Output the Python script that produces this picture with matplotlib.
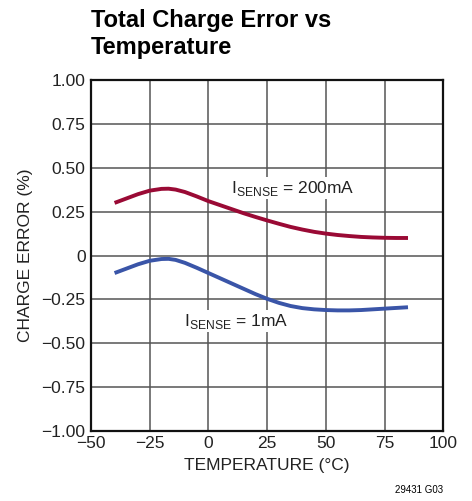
import matplotlib
matplotlib.use("Agg")
import matplotlib.pyplot as plt

# values
temps = [-40, -35, -30, -25, -20, -17, -14, -10, -5, 0, 5, 10, 15, 20, 25, 30,
         35, 40, 45, 50, 55, 60, 65, 70, 75, 80, 85]
err_200ma = [0.30, 0.325, 0.35, 0.37, 0.38, 0.381, 0.376, 0.362, 0.337, 0.31, 0.287,
             0.264, 0.241, 0.22, 0.20, 0.181, 0.163, 0.148, 0.135, 0.125, 0.117,
             0.111, 0.106, 0.103, 0.101, 0.10, 0.10]
err_1ma = [-0.10, -0.075, -0.05, -0.03, -0.02, -0.019, -0.025, -0.042, -0.07, -0.10,
           -0.13, -0.16, -0.19, -0.22, -0.247, -0.27, -0.288, -0.30, -0.307, -0.311,
           -0.313, -0.313, -0.311, -0.307, -0.303, -0.299, -0.295]

x_ticks = [-50, -25, 0, 25, 50, 75, 100]
y_ticks = [-1.0, -0.75, -0.5, -0.25, 0, 0.25, 0.5, 0.75, 1.0]
y_labels = ["\u22121.00", "\u22120.75", "\u22120.50", "\u22120.25", "0", "0.25", "0.50", "0.75", "1.00"]
x_labels = ["\u221250", "\u221225", "0", "25", "50", "75", "100"]

plt.rcParams["font.family"] = ["Liberation Sans", "DejaVu Sans"]
plt.rcParams["mathtext.fontset"] = "custom"
plt.rcParams["mathtext.rm"] = "Liberation Sans"

fig = plt.figure(figsize=(4.72, 5.01), dpi=100)
ax = fig.add_axes([0.193, 0.140, 0.746, 0.700])

ax.plot(temps, err_200ma, color="#9a0a35", lw=2.8, solid_capstyle="butt")
ax.plot(temps, err_1ma, color="#3a55a8", lw=2.8, solid_capstyle="butt")

ax.set_xlim(-50, 100)
ax.set_ylim(-1, 1)
ax.set_xticks(x_ticks)
ax.set_xticklabels(x_labels)
ax.set_yticks(y_ticks)
ax.set_yticklabels(y_labels)
ax.tick_params(length=0, labelsize=12.5, colors="#222222", pad=4)
ax.grid(True, color="#555555", lw=1.1)
for s in ax.spines.values():
    s.set_linewidth(1.6)
    s.set_color("#111111")

ax.set_xlabel("TEMPERATURE (\u00b0C)", fontsize=12.5, color="#222222", labelpad=5)
ax.set_ylabel("CHARGE ERROR (%)", fontsize=12.5, color="#222222", labelpad=6)

ax.text(9.5, 0.385, r"I$_{\mathregular{SENSE}}$ = 200mA", fontsize=12.5,
        va="center", ha="left", color="#222222",
        bbox=dict(facecolor="white", edgecolor="none", pad=1))
ax.text(-10.5, -0.375, r"I$_{\mathregular{SENSE}}$ = 1mA", fontsize=12.5,
        va="center", ha="left", color="#222222",
        bbox=dict(facecolor="white", edgecolor="none", pad=1))

fig.text(0.193, 0.982, "Total Charge Error vs\nTemperature", fontsize=17,
         fontweight="bold", va="top", ha="left", linespacing=1.2)
fig.text(0.939, 0.012, "29431 G03", fontsize=7, ha="right", va="bottom")

fig.savefig("out.png", dpi=100)
